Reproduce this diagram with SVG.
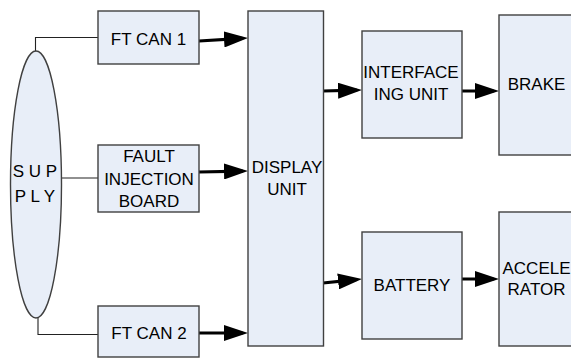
<svg xmlns="http://www.w3.org/2000/svg" width="571" height="358" viewBox="0 0 571 358">
<defs>
<style>
.box{fill:#E8EEF8;stroke:#404040;stroke-width:1.4}
.t{font-family:"Liberation Sans",Arial,sans-serif;font-size:17px;fill:#000;text-anchor:middle}
.thin{fill:none;stroke:#222;stroke-width:1.1}
.arr{fill:none;stroke:#000;stroke-width:3.2;stroke-linecap:round;marker-end:url(#ah)}
</style>
<marker id="ah" markerUnits="userSpaceOnUse" markerWidth="24" markerHeight="16" refX="18" refY="8" orient="auto">
<path d="M0,0 L24,8 L0,16 Z" fill="#000"/>
</marker>
</defs>
<rect width="571" height="358" fill="#fff"/>
<g id="connectors">
<path class="thin" d="M35.5,51 V37.5 H98"/>
<path class="thin" d="M60,178 H98"/>
<path class="thin" d="M38,318 V334.5 H98"/>
<path class="arr" d="M199,41 L242,38.4"/>
<path class="arr" d="M199,172 L242,171.1"/>
<path class="arr" d="M199,333 L242,333"/>
<path class="arr" d="M323,91 L356,90.2"/>
<path class="arr" d="M323,283 L356,279.6"/>
<path class="arr" d="M462,91 L493,91"/>
<path class="arr" d="M462,279 L493,279"/>
</g>
<g id="supply">
<ellipse class="box" cx="36" cy="184.5" rx="25.5" ry="133.5"/>
<text class="t" x="35" y="177">S U P</text>
<text class="t" x="35" y="202">P L Y</text>
</g>
<g id="ftcan1">
<rect class="box" x="98" y="11" width="101" height="53"/>
<text class="t" x="148.5" y="45">FT CAN 1</text>
</g>
<g id="fault">
<rect class="box" x="98" y="145" width="101" height="67"/>
<text class="t" x="149" y="162">FAULT</text>
<text class="t" x="149" y="184.5">INJECTION</text>
<text class="t" x="149" y="207">BOARD</text>
</g>
<g id="ftcan2">
<rect class="box" x="98" y="306" width="101" height="51"/>
<text class="t" x="149" y="339">FT CAN 2</text>
</g>
<g id="display">
<rect class="box" x="248" y="11" width="75.5" height="335"/>
<text class="t" x="287" y="173">DISPLAY</text>
<text class="t" x="287" y="195">UNIT</text>
</g>
<g id="interface">
<rect class="box" x="362" y="31" width="100" height="107"/>
<text class="t" x="411" y="78">INTERFACE</text>
<text class="t" x="411" y="100">ING UNIT</text>
</g>
<g id="brake">
<rect class="box" x="499" y="15" width="80" height="140"/>
<text class="t" x="536.5" y="90">BRAKE</text>
</g>
<g id="battery">
<rect class="box" x="362" y="232" width="100" height="107"/>
<text class="t" x="412" y="291">BATTERY</text>
</g>
<g id="accelerator">
<rect class="box" x="499" y="212" width="80" height="134"/>
<text class="t" x="536.5" y="274">ACCELE</text>
<text class="t" x="536.5" y="295">RATOR</text>
</g>
</svg>
